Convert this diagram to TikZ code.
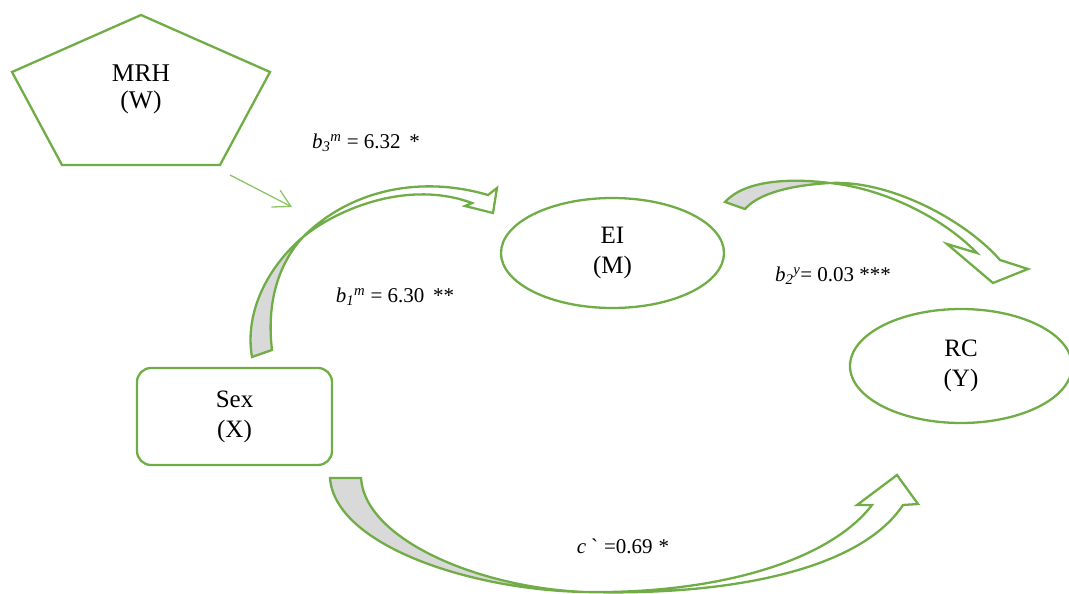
\documentclass[tikz,border=0pt]{standalone}
\usepackage{fontspec}
\setmainfont{Liberation Serif}
\usetikzlibrary{arrows.meta, shapes.geometric}
\definecolor{edgegreen}{RGB}{112,173,71}
\definecolor{thingreen}{RGB}{140,198,100}
\definecolor{ribbongray}{RGB}{217,217,217}

\begin{document}
\begin{tikzpicture}[x=1pt, y=-1pt,
  box/.style={draw=edgegreen, line width=2.3pt, align=center, inner sep=0pt,
    font=\fontsize{25}{30}\selectfont},
  coef/.style={inner sep=0pt, font=\fontsize{21}{24}\selectfont},
  ribbon/.style={draw=edgegreen, line width=2.3pt},
]
  \useasboundingbox (0,0) rectangle (1069,594);
  % moderator (pentagon)
  \coordinate (W1) at (141,15);
  \coordinate (W2) at (270,72);
  \coordinate (W3) at (220,165);
  \coordinate (W4) at (62,165);
  \coordinate (W5) at (12,72);
  \draw[ribbon] (W1) -- (W2) -- (W3) -- (W4) -- (W5) -- cycle;
  \node[align=center, inner sep=0pt, font=\fontsize{25.5}{27}\selectfont] (mrh) at (141,89) {MRH\\(W)};
  \coordinate (wtail) at (230,175);
  \coordinate (wtip) at (292,207);
  \draw[thingreen, line width=1.3pt, -{Straight Barb[length=17pt, width=19pt]}] (wtail) -- (wtip);

  \node[box, rounded corners=14pt, minimum width=195pt, minimum height=97pt] (sex) at (234.5,416.5) {Sex\\(X)};
  \node[box, ellipse, minimum width=223pt, minimum height=110pt] (ei) at (612.5,253) {EI\\(M)};
  \node[box, ellipse, minimum width=222pt, minimum height=114pt] (rc) at (961,366) {RC\\(Y)};

  % curved block arrows
  \path[save path=\ribbonone] (252,357) .. controls (244,310) and (270,265) .. (303,237)
    .. controls (340,207) and (410,180) .. (472,203) -- (465,206) -- (493,213) -- (497,188) -- (488,195)
    .. controls (420,175) and (350,190) .. (303,237) .. controls (280,262) and (266,300) .. (272,350) -- cycle;
  \path[save path=\ribbontwo] (725,202) .. controls (745,180) and (790,178) .. (830,183)
    .. controls (880,188) and (940,215) .. (977,253) -- (947,244) -- (993,283) -- (1028,269) -- (1000,260)
    .. controls (965,220) and (890,180) .. (830,183) .. controls (795,185) and (760,192) .. (745,209) -- cycle;
  \path[save path=\ribbonthree] (330,478) .. controls (335,545) and (470,590) .. (585,592)
    .. controls (720,594) and (830,560) .. (872,505) -- (857,505) -- (897,475) -- (918,504) -- (903,505)
    .. controls (860,570) and (730,596) .. (585,592) .. controls (480,588) and (365,540) .. (361,478) -- cycle;
  \begin{scope}
    \clip (0,0) rectangle (303,594);
    \fill[ribbongray, use path=\ribbonone];
  \end{scope}
  \begin{scope}
    \clip (600,0) rectangle (830,594);
    \fill[ribbongray, use path=\ribbontwo];
  \end{scope}
  \begin{scope}
    \clip (0,0) rectangle (585,594);
    \fill[ribbongray, use path=\ribbonthree];
  \end{scope}
  \draw[ribbon, use path=\ribbonone];
  \draw[ribbon, use path=\ribbontwo];
  \draw[ribbon, use path=\ribbonthree];

  \node[coef] (bthree) at (366,143) {\textit{b}\textsubscript{\textit{3}}\textsuperscript{\textit{m}} = 6.32 \,*};
  \node[coef] (bone) at (395,297) {\textit{b}\textsubscript{\textit{1}}\textsuperscript{\textit{m}} = 6.30 \,**};
  \node[coef] (btwo) at (833,276) {\textit{b}\textsubscript{\textit{2}}\textsuperscript{\textit{y}}= 0.03 ***};
  \node[coef] (cprime) at (623,546) {\textit{c}\hspace{5pt}\textasciigrave\hspace{6pt}=0.69\hspace{6pt}*};
\end{tikzpicture}
\end{document}
